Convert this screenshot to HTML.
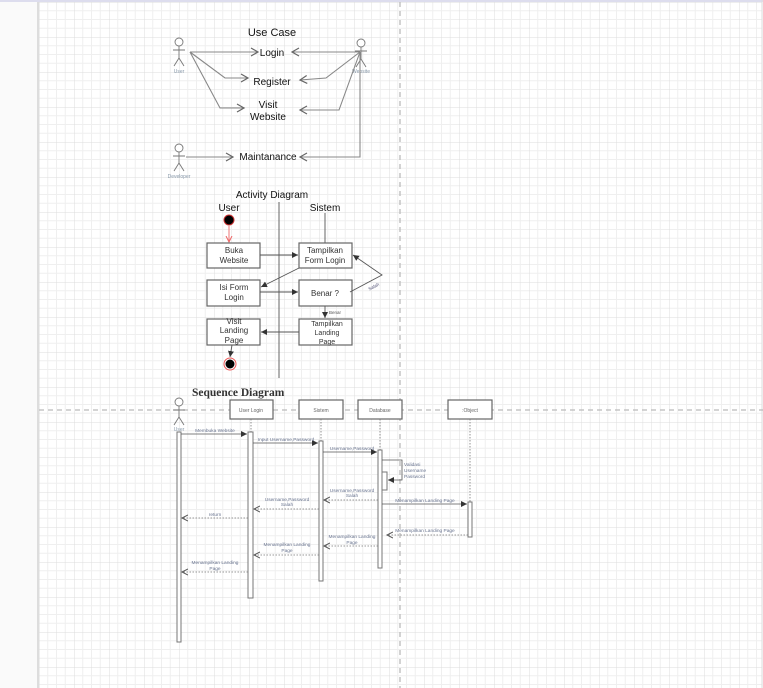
<!DOCTYPE html>
<html><head><meta charset="utf-8"><style>
html,body{margin:0;padding:0;width:763px;height:688px;overflow:hidden;background:#fafafa}
svg{display:block}
text{font-family:"Liberation Sans",sans-serif}
</style></head><body>
<svg width="763" height="688" viewBox="0 0 763 688" xmlns="http://www.w3.org/2000/svg">
<defs>
<pattern id="g" x="39" y="2" width="35" height="35" patternUnits="userSpaceOnUse">
<rect width="35" height="35" fill="#fff"/>
<path d="M8.75 0V35M17.5 0V35M26.25 0V35M0 8.75H35M0 17.5H35M0 26.25H35" stroke="#efefef" stroke-width="1" fill="none"/>
<path d="M0 0V35M0 0H35" stroke="#dcdcdc" stroke-width="1" fill="none"/>
</pattern>
<marker id="o" markerWidth="10" markerHeight="10" refX="8" refY="5" orient="auto" markerUnits="userSpaceOnUse"><path d="M1 1L8 5L1 9" fill="none" stroke="#666" stroke-width="1.2"/></marker>
<marker id="f" markerWidth="8" markerHeight="8" refX="6" refY="4" orient="auto" markerUnits="userSpaceOnUse"><path d="M0 1L6 4L0 7Z" fill="#333"/></marker>
<marker id="r" markerWidth="8" markerHeight="8" refX="6" refY="4" orient="auto" markerUnits="userSpaceOnUse"><path d="M0 1L6 4L0 7" fill="none" stroke="#e66" stroke-width="1"/></marker>
<marker id="s" markerWidth="8" markerHeight="8" refX="6" refY="4" orient="auto" markerUnits="userSpaceOnUse"><path d="M0 1L6 4L0 7" fill="none" stroke="#555" stroke-width="1"/></marker>
</defs>
<rect x="0" y="0" width="763" height="688" fill="#fafafa"/>
<rect x="39" y="2" width="723" height="686" fill="url(#g)"/>
<line x1="38" y1="0" x2="38" y2="688" stroke="#ddd" stroke-width="2"/>
<line x1="0" y1="1" x2="763" y2="1" stroke="#dde" stroke-width="2"/>
<line x1="762" y1="0" x2="762" y2="688" stroke="#ddd"/>
<line x1="400" y1="2" x2="400" y2="688" stroke="#bbb" stroke-width="1.3" stroke-dasharray="5,4"/>
<line x1="39" y1="410" x2="763" y2="410" stroke="#bbb" stroke-width="1.3" stroke-dasharray="5,4"/>

<g fill="none" stroke="#777" stroke-width="0.9">
<circle cx="179" cy="42" r="4" fill="#fff"/><path d="M179 46V58M173 50H185M179 58L174 66M179 58L184 66"/>
<circle cx="361" cy="43" r="4" fill="#fff"/><path d="M361 47V59M355 51H367M361 59L356 67M361 59L366 67"/>
<circle cx="179" cy="148" r="4" fill="#fff"/><path d="M179 152V163M173 156H185M179 163L174 171M179 163L184 171"/>
<circle cx="179" cy="402" r="4" fill="#fff"/><path d="M179 406V417M173 410H185M179 417L174 425M179 417L184 425"/>
</g>
<g font-size="5" fill="#8899aa" text-anchor="middle">
<text x="179" y="73">User</text><text x="361" y="73">Website</text><text x="179" y="178">Developer</text><text x="179" y="431">User</text>
</g>
<g fill="none" stroke="#888" stroke-width="1.1" marker-end="url(#o)">
<path d="M190 52H258"/><path d="M190 52L225 78H248"/><path d="M190 52L220 108H244"/><path d="M186 157H233"/>
<path d="M360 52H292"/><path d="M360 52L326 78L300 80"/><path d="M360 52L339 110H300"/><path d="M360 52V157H300"/>
</g>
<g font-size="10" fill="#111" text-anchor="middle">
<text x="272" y="36" font-size="11">Use Case</text>
<text x="272" y="56">Login</text><text x="272" y="85">Register</text>
<text x="268" y="108">Visit</text><text x="268" y="120">Website</text>
<text x="268" y="160">Maintanance</text>
<text x="272" y="198">Activity Diagram</text>
<text x="229" y="211">User</text><text x="325" y="211">Sistem</text>
</g>

<g stroke="#666" fill="none" stroke-width="1">
<line x1="279" y1="202" x2="279" y2="378"/><line x1="325" y1="213" x2="325" y2="243"/>
</g>
<circle cx="229" cy="220" r="5" fill="#000" stroke="#c33"/>
<line x1="229" y1="226" x2="229" y2="242" stroke="#e77" marker-end="url(#r)"/>
<g fill="#fff" stroke="#666" stroke-width="1.2">
<rect x="207" y="243" width="53" height="25"/><rect x="299" y="243" width="53" height="25"/>
<rect x="207" y="280" width="53" height="26"/><rect x="299" y="280" width="53" height="26"/>
<rect x="207" y="319" width="53" height="26"/><rect x="299" y="319" width="53" height="26"/>
</g>
<g font-size="8" fill="#333" text-anchor="middle">
<text x="234" y="253">Buka</text><text x="234" y="263">Website</text>
<text x="325" y="253">Tampilkan</text><text x="325" y="263">Form Login</text>
<text x="234" y="290">Isi Form</text><text x="234" y="300">Login</text>
<text x="325" y="296">Benar ?</text>
<text x="234" y="324">Visit</text><text x="234" y="333">Landing</text><text x="234" y="343">Page</text>
<text x="327" y="326" font-size="7">Tampilkan</text><text x="327" y="335" font-size="7">Landing</text><text x="327" y="344" font-size="7">Page</text>
</g>
<g stroke="#555" fill="none" stroke-width="0.9" marker-end="url(#f)">
<path d="M260 255H298"/><path d="M299 268L261 287"/><path d="M260 292H298"/>
<path d="M350 292L382 275L353 255"/><path d="M325 306V318"/><path d="M299 332H261"/><path d="M232 345L230 357"/>
</g>
<text x="329" y="314" font-size="4.5" fill="#555">Benar</text>
<text x="368" y="289" font-size="4.5" fill="#557" transform="rotate(-28 372 287)">Salah</text>
<circle cx="230" cy="364" r="6" fill="#fff" stroke="#e55"/><circle cx="230" cy="364" r="4.5" fill="#000"/>

<text x="192" y="396" style="font-family:'Liberation Serif',serif;font-weight:bold;font-size:11.5px" fill="#333">Sequence Diagram</text>
<g fill="#fff" stroke="#666" stroke-width="1.2">
<rect x="230" y="400" width="43" height="19"/><rect x="299" y="400" width="44" height="19"/>
<rect x="358" y="400" width="44" height="19"/><rect x="448" y="400" width="44" height="19"/>
</g>
<g font-size="5" fill="#666" text-anchor="middle">
<text x="251" y="412">User Login</text><text x="321" y="412">Sistem</text><text x="380" y="412">Database</text><text x="470" y="412">:Object</text>
</g>
<g stroke="#777" stroke-dasharray="1.5,1.5" stroke-width="0.8">
<line x1="251" y1="419" x2="251" y2="432"/><line x1="321" y1="419" x2="321" y2="441"/><line x1="380" y1="419" x2="380" y2="450"/><line x1="470" y1="419" x2="470" y2="502"/>
</g>
<g fill="#fff" stroke="#777" stroke-width="1">
<rect x="177" y="432" width="4" height="210"/><rect x="248" y="432" width="5" height="166"/>
<rect x="319" y="441" width="4" height="140"/><rect x="378" y="450" width="4" height="118"/>
<rect x="382" y="472" width="5" height="18"/><rect x="468" y="502" width="4" height="35"/>
</g>
<g stroke="#555" fill="none" stroke-width="0.8" marker-end="url(#f)">
<path d="M181 434H247"/><path d="M253 443H318"/><path d="M323 452H377"/>
<path d="M382 460H402V480H388"/><path d="M382 504H467"/>
</g>
<g stroke="#777" fill="none" stroke-width="0.8" stroke-dasharray="1.5,1.5" marker-end="url(#s)">
<path d="M378 500H324"/><path d="M319 509H254"/><path d="M248 518H182"/>
<path d="M468 535H387"/><path d="M378 546H324"/><path d="M319 555H254"/><path d="M248 572H182"/>
</g>
<g font-size="4.8" fill="#6a7590" text-anchor="middle">
<text x="215" y="432">Membuka Website</text>
<text x="286" y="441">Input Username,Password</text>
<text x="352" y="450">Username,Password</text>
<text x="404" y="466" text-anchor="start">Validasi</text><text x="404" y="472" text-anchor="start">Username</text><text x="404" y="478" text-anchor="start">Password</text>
<text x="352" y="492">Username,Password</text><text x="352" y="497">Salah</text>
<text x="287" y="501">Username,Password</text><text x="287" y="506">Salah</text>
<text x="215" y="516">return</text>
<text x="425" y="502">Menampilkan Landing Page</text>
<text x="425" y="532">Menampilkan Landing Page</text>
<text x="352" y="538">Menampilkan Landing</text><text x="352" y="544">Page</text>
<text x="287" y="546">Menampilkan Landing</text><text x="287" y="552">Page</text>
<text x="215" y="564">Menampilkan Landing</text><text x="215" y="570">Page</text>
</g>
</svg>
</body></html>
